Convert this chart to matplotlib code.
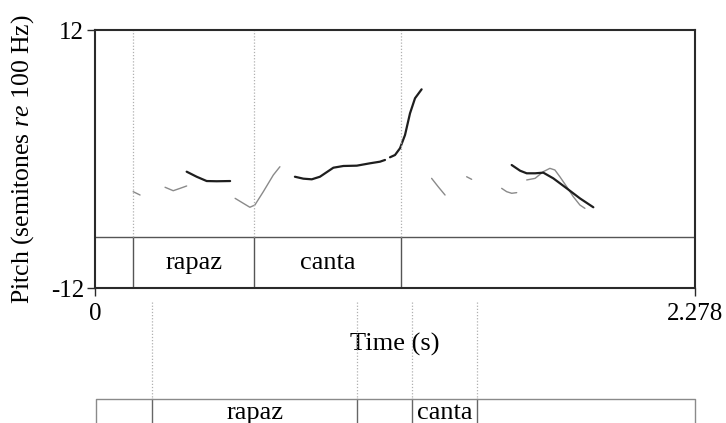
import matplotlib
matplotlib.use("Agg")
import matplotlib.pyplot as plt

plt.rcParams["font.family"] = ["Liberation Serif", "DejaVu Serif"]
plt.rcParams["mathtext.fontset"] = "custom"
plt.rcParams["mathtext.rm"] = "Liberation Serif"
plt.rcParams["mathtext.it"] = "Liberation Serif:italic"

# Time range (s) and pitch range (semitones re 100 Hz)
t_max = 2.278
y_min, y_max = -12, 12

# Stylised pitch contour (dark segments)
close_rapaz_t = [0.348, 0.386, 0.424, 0.462, 0.513]
close_rapaz_p = [-1.18, -1.65, -2.05, -2.07, -2.05]
close_canta_t = [0.759, 0.791, 0.823, 0.854, 0.905, 0.943, 0.994, 1.044, 1.082, 1.101]
close_canta_p = [-1.65, -1.83, -1.89, -1.65, -0.81, -0.65, -0.62, -0.40, -0.25, -0.09]
close_rise_t = [1.120, 1.139, 1.158, 1.177, 1.196, 1.215, 1.240]
close_rise_p = [0.16, 0.37, 1.00, 2.23, 4.25, 5.65, 6.48]
close_final_t = [1.582, 1.614, 1.639, 1.671, 1.702, 1.740, 1.791, 1.841, 1.892]
close_final_p = [-0.56, -1.09, -1.33, -1.33, -1.27, -1.80, -2.73, -3.66, -4.49]

# Original F0 (light segments)
f0_a_t = [0.145, 0.171]
f0_a_p = [-3.04, -3.35]
f0_b_t = [0.266, 0.297, 0.323, 0.348]
f0_b_p = [-2.63, -2.95, -2.73, -2.51]
f0_c_t = [0.532, 0.563, 0.588, 0.607, 0.639, 0.677, 0.702]
f0_c_p = [-3.66, -4.12, -4.49, -4.28, -3.04, -1.49, -0.72]
f0_d_t = [1.278, 1.303, 1.329]
f0_d_p = [-1.80, -2.58, -3.35]
f0_e_t = [1.411, 1.430]
f0_e_p = [-1.65, -1.89]
f0_f_t = [1.544, 1.563, 1.582, 1.601]
f0_f_p = [-2.73, -3.04, -3.19, -3.13]
f0_g_t = [1.639, 1.671, 1.702, 1.727, 1.746, 1.765, 1.791, 1.816, 1.841, 1.860]
f0_g_p = [-1.95, -1.80, -1.18, -0.87, -1.02, -1.65, -2.58, -3.51, -4.28, -4.59]

# Word tier inside the pitch panel
upper_bounds = [0.145, 0.604, 1.162]
upper_words = ["rapaz", "canta"]
# Word tier of the second panel
lower_bounds = [0.218, 0.994, 1.205, 1.449]
lower_words = ["rapaz", "canta"]

FS = 19
W, H = 726, 423
fig = plt.figure(figsize=(W / 100, H / 100), dpi=100)
L, R, T, B = 95, 695, 30, 288
ax = fig.add_axes([L / W, 1 - B / H, (R - L) / W, (B - T) / H])
ax.set_xlim(0, t_max)
ax.set_ylim(y_min, y_max)

tier_frac = (B - 237) / (B - T)
tier_y = y_min + (y_max - y_min) * tier_frac

for tt, pp in [(f0_a_t, f0_a_p), (f0_b_t, f0_b_p), (f0_c_t, f0_c_p), (f0_d_t, f0_d_p),
               (f0_e_t, f0_e_p), (f0_f_t, f0_f_p), (f0_g_t, f0_g_p)]:
    ax.plot(tt, pp, color="#8a8a8a", lw=1.0, solid_capstyle="round")
for tt, pp in [(close_rapaz_t, close_rapaz_p), (close_canta_t, close_canta_p),
               (close_rise_t, close_rise_p), (close_final_t, close_final_p)]:
    ax.plot(tt, pp, color="#1e1e1e", lw=1.6, solid_capstyle="round")

# tier divider and boundaries
ax.axhline(tier_y, color="#555555", lw=1.0)
for b in upper_bounds:
    ax.plot([b, b], [y_min, tier_y], color="#555555", lw=1.0)
    ax.plot([b, b], [tier_y, y_max], color="#b0b0b0", lw=0.9, ls=(0, (1, 1.5)))
for i, w in enumerate(upper_words):
    ax.text((upper_bounds[i] + upper_bounds[i + 1]) / 2, (y_min + tier_y) / 2, w,
            ha="center", va="center", fontsize=FS)

for s in ax.spines.values():
    s.set_color("#2a2a2a")
    s.set_linewidth(1.5)
ax.set_xticks([0, t_max])
ax.set_xticklabels(["0", "2.278"])
ax.set_yticks([y_min, y_max])
ax.set_yticklabels(["-12", "12"])
ax.tick_params(direction="out", length=6, width=1.0, color="#2a2a2a", labelsize=18, pad=2)
ax.tick_params(axis="x", pad=5)
ax.set_ylabel("Pitch (semitones $\\mathit{re}$ 100 Hz)", fontsize=18.5)
ax.yaxis.set_label_coords(-0.12, 0.5)
ax.yaxis.label.set_va("center")
ax.set_xlabel("Time (s)", fontsize=FS)
ax.xaxis.set_label_coords(0.5, (B - 344) / (B - T))
ax.xaxis.label.set_va("center")

# Second panel: dotted boundaries and a word tier running off the bottom
low = fig.add_axes([L / W, 0, (R - L) / W, (H - B) / H])
low.set_xlim(0, t_max)
low.set_ylim(H, B)
low.axis("off")
box_top = 399
for b in lower_bounds:
    low.plot([b, b], [302, box_top], color="#b0b0b0", lw=0.9, ls=(0, (1, 1.5)))
    low.plot([b, b], [box_top, H + 5], color="#666666", lw=1.0, clip_on=False)
low.plot([0.004, 0.004, t_max, t_max], [H + 5, box_top, box_top, H + 5],
         color="#8a8a8a", lw=1.0, clip_on=False)
for i, w in enumerate(lower_words):
    low.text((lower_bounds[2 * i] + lower_bounds[2 * i + 1]) / 2, 413, w,
             ha="center", va="center", fontsize=FS)

fig.savefig("out.png", dpi=100)
